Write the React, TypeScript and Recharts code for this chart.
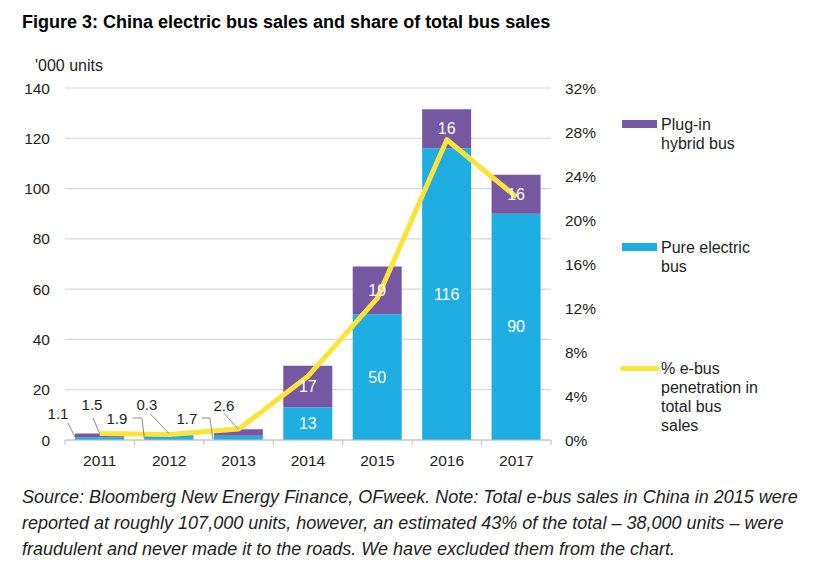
import React from 'react';
import { ComposedChart, Bar, Line, XAxis, YAxis, CartesianGrid, LabelList, Legend } from 'recharts';

const years = ['2011', '2012', '2013', '2014', '2015', '2016', '2017'];
const pureElectric = [1.1, 1.9, 1.7, 13, 50, 116, 90];
const plugInHybrid = [1.5, 0.3, 2.6, 16.5, 19, 15.5, 15.5];
const ebusShare = [0.006, 0.005, 0.01, 0.058, 0.129, 0.273, 0.221];
const unitTicks = [0, 20, 40, 60, 80, 100, 120, 140];
const shareTicks = [0, 0.04, 0.08, 0.12, 0.16, 0.2, 0.24, 0.28, 0.32];

const seriesNames = {
  hybrid: ['Plug-in', 'hybrid bus'],
  pure: ['Pure electric', 'bus'],
  share: ['% e-bus', 'penetration in', 'total bus', 'sales'],
};

const TITLE = 'Figure 3: China electric bus sales and share of total bus sales';
const UNIT_LABEL = "'000 units";
const SOURCE_LINES = [
  'Source: Bloomberg New Energy Finance, OFweek. Note: Total e-bus sales in China in 2015 were',
  'reported at roughly 107,000 units, however, an estimated 43% of the total \u2013 38,000 units \u2013 were',
  'fraudulent and never made it to the roads. We have excluded them from the chart.',
];

const data = years.map((year, i) => ({
  year,
  pure: pureElectric[i],
  hybrid: plugInHybrid[i],
  share: ebusShare[i],
}));

const PURPLE = '#7657A2';
const BLUE = '#1FAEE2';
const YELLOW = '#FFE23A';
const GRID = '#D9D9D9';
const AXIS = '#BFBFBF';
const TEXT = '#1E1E1E';
const FONT = '"Liberation Sans", Arial, Helvetica, sans-serif';

const W = 830;
const H = 573;
const LEFT_AXIS_W = 65;
const RIGHT_AXIS_W = 279;
const PLOT_W = W - LEFT_AXIS_W - RIGHT_AXIS_W;
const BAND = PLOT_W / years.length;

// callout placement for the small (early-year) values: offsets relative to the segment
const pureCallouts: Record<number, { text: number[]; path: number[][] }> = {
  0: { text: [-17, -27], path: [[-7, -17], [1, -1]] },
  1: { text: [-27.5, -22], path: [[-11.5, -22], [-2.5, -22], [0, -1]] },
  2: { text: [-27, -22], path: [[-12, -22], [-4, -22], [-1, -1]] },
};
const hybridCallouts: Record<number, { text: number[]; path: number[][] }> = {
  0: { text: [-7.5, -28.5], path: [[-6.5, -15.5], [0, 0]] },
  1: { text: [-22, -29.5], path: [[-19, -21], [0, -1]] },
  2: { text: [-14.5, -24], path: [[-14.5, -16], [0, 0]] },
};

const makeLabel = (kind: 'pure' | 'hybrid') => (props: any) => {
  const x = Number(props.x);
  const y = Number(props.y);
  const width = Number(props.width);
  const height = Number(props.height);
  const index = props.index;
  const value = Number(props.value);
  const callouts = kind === 'pure' ? pureCallouts : hybridCallouts;
  const c = callouts[index];
  if (c) {
    const ax = kind === 'pure' ? x : x + width / 2;
    const ay = kind === 'pure' ? y + height : y;
    const pts = c.path.map((p) => `${ax + p[0]},${ay + p[1]}`).join(' ');
    return (
      <g>
        <polyline points={pts} fill="none" stroke="#8C8C8C" strokeWidth={1} />
        <text
          x={ax + c.text[0]}
          y={ay + c.text[1]}
          textAnchor="middle"
          dominantBaseline="central"
          fontSize={15}
          fontFamily={FONT}
          fill={TEXT}
        >
          {value.toFixed(1)}
        </text>
      </g>
    );
  }
  return (
    <text
      x={x + width / 2}
      y={y + height / 2}
      textAnchor="middle"
      dominantBaseline="central"
      fontSize={16}
      fontFamily={FONT}
      fill="#FFFFFF"
    >
      {Math.round(value)}
    </text>
  );
};

const XTick = (props: any) => {
  const { x, y, payload, index } = props;
  const half = BAND / 2;
  return (
    <g>
      <line x1={x - half} y1={y} x2={x - half} y2={y + 5} stroke={AXIS} strokeWidth={1} />
      {index === years.length - 1 && (
        <line x1={x + half} y1={y} x2={x + half} y2={y + 5} stroke={AXIS} strokeWidth={1} />
      )}
      <text
        x={x}
        y={y + 20}
        textAnchor="middle"
        dominantBaseline="central"
        fontSize={15.5}
        fontFamily={FONT}
        fill={TEXT}
      >
        {payload.value}
      </text>
    </g>
  );
};

const legendItems = [
  { key: 'hybrid', lines: seriesNames.hybrid, color: PURPLE, kind: 'rect', top: 14 },
  { key: 'pure', lines: seriesNames.pure, color: BLUE, kind: 'rect', top: 137 },
  { key: 'share', lines: seriesNames.share, color: YELLOW, kind: 'line', top: 258 },
];

const renderLegend = () => (
  <div style={{ position: 'relative', width: 200, height: 340, fontFamily: FONT }}>
    {legendItems.map((it) => (
      <div key={it.key}>
        <div
          style={{
            position: 'absolute',
            left: it.kind === 'rect' ? 2 : 0,
            top: it.kind === 'rect' ? it.top - 4 : it.top - 2.5,
            width: it.kind === 'rect' ? 35 : 39,
            height: it.kind === 'rect' ? 8 : 5,
            borderRadius: it.kind === 'rect' ? 0 : 3,
            background: it.color,
          }}
        />
        <div
          style={{
            position: 'absolute',
            left: 41,
            top: it.top - 9.5,
            fontSize: 16,
            lineHeight: '19px',
            color: TEXT,
            whiteSpace: 'nowrap',
          }}
        >
          {it.lines.map((l) => (
            <div key={l}>{l}</div>
          ))}
        </div>
      </div>
    ))}
  </div>
);

export default function App() {
  return (
    <div
      style={{
        position: 'absolute',
        left: 0,
        top: 0,
        width: W,
        height: H,
        background: '#FFFFFF',
        fontFamily: FONT,
        overflow: 'hidden',
      }}
    >
      <div
        style={{
          position: 'absolute',
          left: 22,
          top: 12,
          fontSize: 18,
          lineHeight: '20px',
          fontWeight: 'bold',
          color: '#000',
          whiteSpace: 'nowrap',
        }}
      >
        {TITLE}
      </div>
      <div
        style={{
          position: 'absolute',
          left: 35,
          top: 56,
          fontSize: 16,
          lineHeight: '20px',
          color: TEXT,
          whiteSpace: 'nowrap',
        }}
      >
        {UNIT_LABEL}
      </div>
      <div style={{ position: 'absolute', left: 0, top: 0 }}>
        <ComposedChart
          width={W}
          height={H}
          data={data}
          margin={{ top: 88, right: 0, bottom: 103, left: 0 }}
          barCategoryGap={0}
        >
          <CartesianGrid yAxisId="left" horizontal vertical={false} stroke={GRID} strokeWidth={1.2} />
          <XAxis
            dataKey="year"
            height={30}
            axisLine={{ stroke: AXIS, strokeWidth: 1.2 }}
            tickLine={false}
            tickSize={0}
            tickMargin={0}
            tick={<XTick />}
            interval={0}
          />
          <YAxis
            yAxisId="left"
            width={LEFT_AXIS_W}
            domain={[0, 140]}
            ticks={unitTicks}
            axisLine={false}
            tickLine={false}
            tickSize={0}
            tickMargin={15}
            tick={{ fontSize: 15.5, fill: TEXT, fontFamily: FONT }}
          />
          <YAxis
            yAxisId="right"
            orientation="right"
            width={RIGHT_AXIS_W}
            domain={[0, 0.32]}
            ticks={shareTicks}
            axisLine={false}
            tickLine={false}
            tickSize={0}
            tickMargin={14}
            tickFormatter={(v: number) => `${Math.round(v * 100)}%`}
            tick={{ fontSize: 15.5, fill: TEXT, fontFamily: FONT, textAnchor: 'start' }}
          />
          <Legend
            layout="vertical"
            align="center"
            verticalAlign="middle"
            content={renderLegend}
            wrapperStyle={{ left: 620, top: 110, width: 200, height: 340 }}
          />
          <Bar yAxisId="left" dataKey="pure" name="Pure electric bus" stackId="s" fill={BLUE} barSize={49} isAnimationActive={false}>
            <LabelList dataKey="pure" content={makeLabel('pure')} />
          </Bar>
          <Bar yAxisId="left" dataKey="hybrid" name="Plug-in hybrid bus" stackId="s" fill={PURPLE} barSize={49} isAnimationActive={false}>
            <LabelList dataKey="hybrid" content={makeLabel('hybrid')} />
          </Bar>
          <Line
            yAxisId="right"
            dataKey="share"
            name="% e-bus penetration in total bus sales"
            type="linear"
            stroke={YELLOW}
            strokeWidth={5}
            strokeLinejoin="round"
            dot={false}
            activeDot={false}
            isAnimationActive={false}
          />
        </ComposedChart>
      </div>
      <div
        style={{
          position: 'absolute',
          left: 22,
          top: 484,
          fontSize: 18,
          lineHeight: '26px',
          fontStyle: 'italic',
          color: TEXT,
          whiteSpace: 'nowrap',
        }}
      >
        {SOURCE_LINES.map((l) => (
          <div key={l}>{l}</div>
        ))}
      </div>
    </div>
  );
}
